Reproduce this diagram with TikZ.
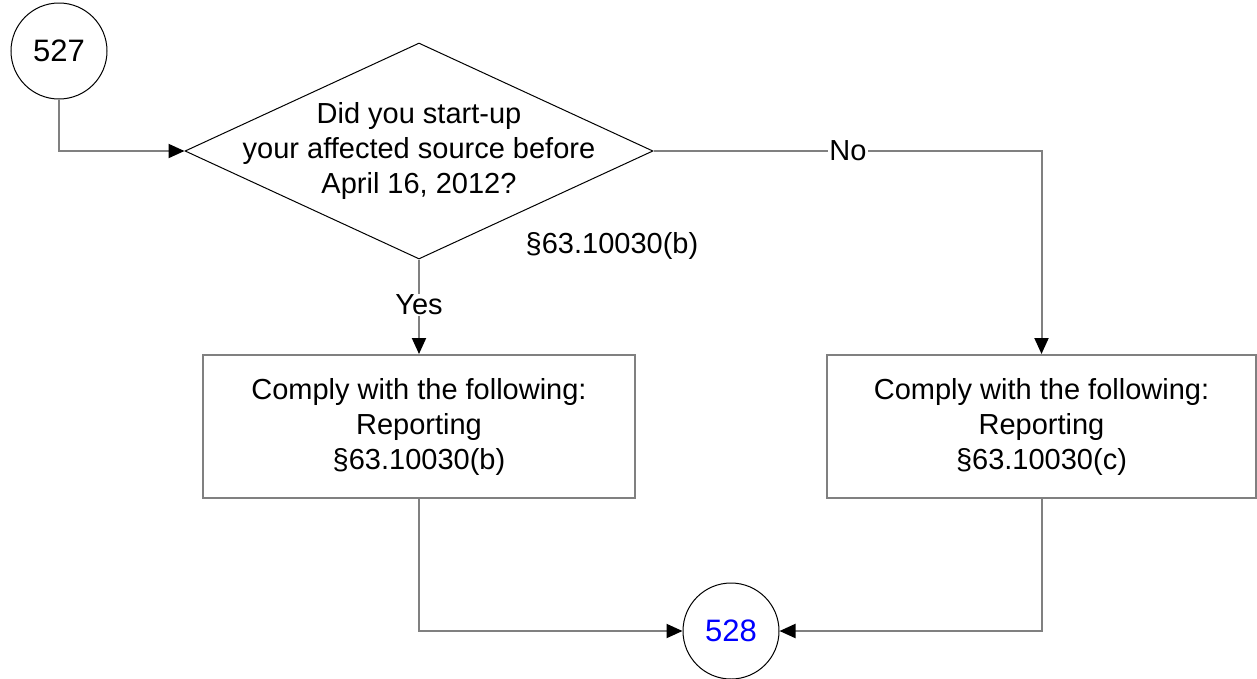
\documentclass[tikz,border=0pt]{standalone}
\usepackage{fontspec}
\setmainfont{Liberation Sans}
\usepackage{xcolor}
\usepackage{tikz}
\usetikzlibrary{positioning, arrows.meta, calc, shapes.geometric}
\definecolor{linegray}{HTML}{808080}
\definecolor{refblue}{HTML}{0000FF}

\tikzset{
  flowline/.style={draw=linegray, line width=2pt, -{Triangle[length=16pt, width=14pt, color=black]}},
  plainline/.style={draw=linegray, line width=2pt},
  connector/.style={draw=black, line width=1pt, circle, minimum size=96pt, inner sep=0pt, font=\fontsize{31}{35}\selectfont},
  decision/.style={draw=black, line width=1pt, diamond, minimum width=468pt, minimum height=216pt, inner sep=0pt},
  actionbox/.style={draw=linegray, line width=2pt, rectangle, minimum width=432pt, minimum height=143pt, align=center, font=\fontsize{29}{35}\selectfont},
  txt/.style={align=center, inner sep=2pt, font=\fontsize{29}{35}\selectfont},
  lbl/.style={fill=white, inner sep=1pt, font=\fontsize{29}{35}\selectfont}
}

\begin{document}
\begin{tikzpicture}[x=1pt, y=-1pt]
    \useasboundingbox (0,0) rectangle (1257,678);

    % shapes
    \node[connector] (c527) at (59,51) {527};
    \node[decision] (q) at (419,151) {};
    \node[txt] (qtext) at (q.center) {Did you start-up\\your affected source before\\April 16, 2012?};
    \node[txt] (qref) at (612,246) {§63.10030(b)};
    \node[actionbox] (boxL) at (419,426.5) {Comply with the following:\\Reporting\\§63.10030(b)};
    \node[actionbox, minimum width=429pt] (boxR) at (1041.5,426.5) {Comply with the following:\\Reporting\\§63.10030(c)};
    \node[connector, text=refblue] (c528) at (731,631) {528};

    % connectors
    \draw[flowline] (c527.south) |- (q.west);
    \draw[flowline] (q.east) -| (boxR.north);
    \draw[flowline] (q.south) -- (boxL.north);
    \draw[flowline] (boxL.south) |- (c528.west);
    \draw[flowline] (boxR.south) |- (c528.east);

    % answers
    \node[lbl] (no) at (848,151) {No};
    \node[lbl] (yes) at (419,305) {Yes};
  \end{tikzpicture}
\end{document}
